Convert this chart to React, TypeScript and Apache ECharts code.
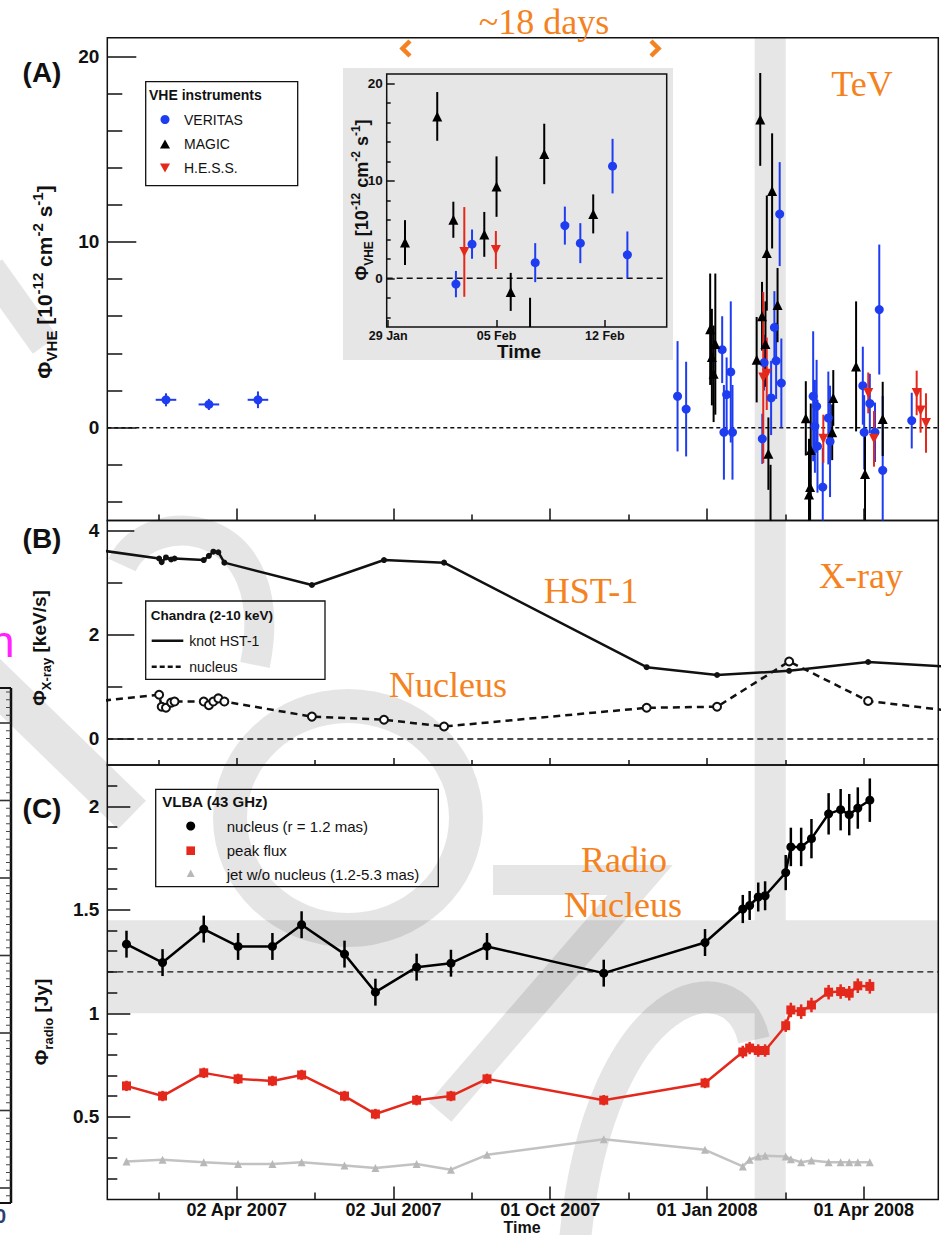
import React, { useEffect, useRef } from "react";
import * as echarts from "echarts";

// ---------------- time helper (days since 2 Apr 2007, 00:00 UTC) ----------------
const REF_MS = Date.UTC(2007, 3, 2);
function day(s: string): number {
  const [d, t] = s.split("T");
  const [Y, M, D] = d.split("-").map(Number);
  const [h, m] = t ? t.split(":").map(Number) : [0, 0];
  return (Date.UTC(Y, M - 1, D, h, m) - REF_MS) / 864e5;
}

// ---------------- axes ----------------
const timeRange = ["2007-01-16T19:40", "2008-05-14T21:20"];
const xTickDates = ["2007-04-02T04:48", "2007-07-02T12:18", "2007-10-01T19:48", "2008-01-01T03:18", "2008-04-01T10:48"];
const xTickLabels = ["02 Apr 2007", "02 Jul 2007", "01 Oct 2007", "01 Jan 2008", "01 Apr 2008"];
const xMinorTickDates = ["2007-02-15T13:03", "2007-05-17T20:33", "2007-08-17T04:03", "2007-11-16T11:33", "2008-02-15T19:03"];
const insetRange = ["2008-01-28T21:36", "2008-02-16T00:00"];
const insetTickDates = ["2008-01-29", "2008-02-05", "2008-02-12"];
const insetTickLabels = ["29 Jan", "05 Feb", "12 Feb"];
const flareWindow = ["2008-01-28T21:36", "2008-02-16T00:00"];

const yTicksA = [0, 10, 20];
const yMinorA = [-4, -2, 2, 4, 6, 8, 12, 14, 16, 18];
const yTicksB = [0, 2, 4];
const yMinorB = [1, 3];
const yTicksC = [0.5, 1, 1.5, 2];
const yMinorC = [0.2, 0.3, 0.4, 0.6, 0.7, 0.8, 0.9, 1.1, 1.2, 1.3, 1.4, 1.6, 1.7, 1.8, 1.9, 2.1];
const radioBand = [1.0, 1.45];
const radioRef = 1.2;

// ---------------- (A) VHE, outside the flare window ----------------
const veritasDates = ["2007-02-20", "2007-03-17", "2007-04-14T14:00", "2007-12-15", "2007-12-20", "2008-01-10", "2008-01-11", "2008-01-12T14:00", "2008-01-15", "2008-01-16", "2008-03-03", "2008-03-04", "2008-03-05", "2008-03-05T12:00", "2008-03-08T14:00", "2008-03-11T20:00", "2008-03-12T20:00", "2008-03-31T22:00", "2008-04-01T17:00", "2008-04-05", "2008-04-08", "2008-04-10T12:00", "2008-04-12T12:00", "2008-04-29T10:00"];
const veritasFlux = [1.5, 1.25, 1.5, 1.69, 1.0, 4.2, -0.25, 1.78, 3.0, -0.25, 1.69, 0.07, 1.15, -1.0, -3.2, 0.52, -0.74, 2.26, -0.25, 1.3, -0.25, 6.36, -2.3, 0.38];
const veritasErr = [0.35, 0.3, 0.45, 2.97, 2.55, 1.8, 2.55, 2.0, 3.8, 2.55, 3.5, 2.5, 2.5, 2.5, 2.1, 2.5, 3.0, 2.1, 2.0, 1.6, 1.6, 3.5, 4.0, 1.5];
const veritasXErrDays = [6, 6, 6, 0, 0, 0, 0, 0, 0, 0, 0, 0, 0, 0, 0, 0, 0, 0, 0, 0, 0, 0, 0, 0];

const magicDates = ["2008-01-03", "2008-01-04", "2008-01-05", "2008-01-06", "2008-02-27T17:00", "2008-02-29T14:00", "2008-03-01T05:00", "2008-03-01T14:00", "2008-03-14T02:00", "2008-03-14T17:00", "2008-03-28", "2008-04-02T05:00", "2008-04-12T12:00"];
const magicFlux = [5.3, 3.8, 2.9, 4.5, 0.5, -3.6, -3.2, -1.2, -0.25, 1.6, 3.3, -2.5, 0.47];
const magicErr = [3.0, 2.6, 2.6, 3.8, 2.0, 3.0, 2.5, 2.5, 1.5, 1.5, 3.5, 2.5, 2.0];

const hessDates = ["2008-03-08T22:00", "2008-04-04T02:00", "2008-04-07T10:00", "2008-05-02T07:00", "2008-05-04T14:00", "2008-05-07T17:00"];
const hessFlux = [-0.6, 1.87, -0.6, 1.87, 0.93, 0.25];
const hessErr = [1.3, 1.1, 1.5, 1.2, 1.2, 1.6];

// ---------------- (A) + inset: the ~18 day flare ----------------
const magicFlareDates = ["2008-01-30T02:00", "2008-02-01T04:00", "2008-02-02T05:00", "2008-02-04T05:00", "2008-02-05T00:00", "2008-02-05T22:00", "2008-02-07T04:00", "2008-02-08T02:00", "2008-02-11T06:00"];
const magicFlareFlux = [3.66, 16.6, 6.0, 4.5, 9.4, -1.4, -5.6, 12.75, 6.6];
const magicFlareErr = [2.3, 2.5, 1.85, 2.3, 3.1, 1.95, 3.6, 3.1, 2.0];
const veritasFlareDates = ["2008-02-02T09:00", "2008-02-03T10:00", "2008-02-07T12:00", "2008-02-09T10:00", "2008-02-10T10:00", "2008-02-12T12:00", "2008-02-13T11:00"];
const veritasFlareFlux = [-0.6, 3.5, 1.6, 5.4, 3.6, 11.5, 2.4];
const veritasFlareErr = [1.35, 1.5, 2.0, 1.95, 2.05, 2.8, 2.4];
const hessFlareDates = ["2008-02-02T22:00", "2008-02-04T23:00"];
const hessFlareFlux = [2.7, 2.9];
const hessFlareErr = [4.6, 1.95];

// ---------------- (B) Chandra X-ray ----------------
const xrayDates = ["2007-01-01", "2007-02-16", "2007-02-17T12:00", "2007-02-20", "2007-02-23", "2007-02-25", "2007-03-14", "2007-03-17", "2007-03-19T14:00", "2007-03-22T12:00", "2007-03-26", "2007-05-16", "2007-06-27", "2007-08-01", "2007-11-27", "2008-01-07", "2008-02-18", "2008-04-04", "2008-05-25"];
const hst1Flux = [3.68, 3.47, 3.4, 3.49, 3.45, 3.47, 3.44, 3.52, 3.6, 3.59, 3.39, 2.96, 3.44, 3.39, 1.38, 1.23, 1.31, 1.48, 1.38];
const nucleusXFlux = [0.69, 0.85, 0.62, 0.6, 0.7, 0.72, 0.72, 0.65, 0.72, 0.78, 0.72, 0.43, 0.37, 0.24, 0.6, 0.62, 1.49, 0.73, 0.53];

// ---------------- (C) VLBA 43 GHz ----------------
const radioDates = ["2007-01-28", "2007-02-18", "2007-03-14", "2007-04-03", "2007-04-23", "2007-05-10", "2007-06-04", "2007-06-22", "2007-07-16", "2007-08-05", "2007-08-26", "2007-11-02", "2007-12-31", "2008-01-22", "2008-01-26", "2008-01-31", "2008-02-04", "2008-02-16", "2008-02-19", "2008-02-25", "2008-03-02", "2008-03-12", "2008-03-19", "2008-03-24", "2008-03-29", "2008-04-05"];
const radioNucleus = [1.334, 1.245, 1.407, 1.323, 1.323, 1.428, 1.286, 1.102, 1.223, 1.242, 1.323, 1.194, 1.342, 1.504, 1.521, 1.562, 1.568, 1.68, 1.804, 1.804, 1.844, 1.964, 1.984, 1.96, 1.992, 2.03];
const radioNucleusErr = [0.065, 0.065, 0.065, 0.065, 0.065, 0.065, 0.065, 0.065, 0.065, 0.065, 0.065, 0.065, 0.065, 0.068, 0.07, 0.07, 0.07, 0.085, 0.093, 0.093, 0.095, 0.1, 0.1, 0.1, 0.1, 0.105];
const radioPeak = [0.649, 0.6, 0.712, 0.683, 0.673, 0.702, 0.6, 0.513, 0.58, 0.6, 0.683, 0.58, 0.663, 0.813, 0.832, 0.82, 0.82, 0.94, 1.016, 1.008, 1.04, 1.102, 1.105, 1.097, 1.133, 1.13];
const radioPeakErr = [0.025, 0.025, 0.025, 0.025, 0.025, 0.025, 0.025, 0.025, 0.025, 0.025, 0.025, 0.025, 0.025, 0.03, 0.03, 0.03, 0.03, 0.03, 0.035, 0.035, 0.035, 0.035, 0.035, 0.035, 0.035, 0.035];
const radioJet = [0.284, 0.292, 0.28, 0.272, 0.272, 0.28, 0.264, 0.252, 0.272, 0.244, 0.316, 0.391, 0.34, 0.26, 0.292, 0.308, 0.311, 0.308, 0.295, 0.28, 0.288, 0.28, 0.28, 0.28, 0.28, 0.28];

// ---------------- styling ----------------
const FONT = "'Liberation Sans', Arial, Helvetica, sans-serif";
const SERIF = "'Liberation Serif', 'Times New Roman', serif";
const INK = "#111111";
const BLUE = "#1e3cf0";
const RED = "#e4281c";
const ORANGE = "#f58220";
const BAND = "#e6e6e6";
const WATER = "rgba(0,0,0,0.1)";

function pts(dates: string[], vals: number[], errs?: number[], xerr?: number[]) {
  return dates.map((d, i) => [day(d), vals[i], errs ? errs[i] : 0, xerr ? xerr[i] : 0]);
}

function errorBars(xi: number, yi: number, data: number[][], color: string, width: number, z: number) {
  return {
    type: "custom", xAxisIndex: xi, yAxisIndex: yi, z, silent: true,
    encode: { x: 0, y: 1 }, data,
    renderItem: (params: any, api: any) => {
      const cs = params.coordSys;
      const x = api.value(0), y = api.value(1), e = api.value(2), xe = api.value(3);
      const c = api.coord([x, y]);
      const children: any[] = [];
      if (c[0] < cs.x - 1 || c[0] > cs.x + cs.width + 1) return { type: "group", children };
      const top = cs.y, bot = cs.y + cs.height;
      const cl = (v: number) => Math.max(top, Math.min(bot, v));
      const y1 = cl(api.coord([x, y + e])[1]);
      const y2 = cl(api.coord([x, y - e])[1]);
      if (y2 - y1 > 0.5) children.push({ type: "line", shape: { x1: c[0], y1, x2: c[0], y2 }, style: { stroke: color, lineWidth: width } });
      if (xe > 0 && c[1] >= top && c[1] <= bot) {
        const l = api.coord([x - xe, y])[0], r = api.coord([x + xe, y])[0];
        children.push({ type: "line", shape: { x1: l, y1: c[1], x2: r, y2: c[1] }, style: { stroke: color, lineWidth: width } });
      }
      return { type: "group", children };
    },
  };
}

function bandSeries(xi: number, yi: number, rects: number[][]) {
  return {
    type: "custom", xAxisIndex: xi, yAxisIndex: yi, z: 1, silent: true,
    encode: { x: [0, 1], y: [2, 3] }, data: rects,
    renderItem: (_p: any, api: any) => {
      const a = api.coord([api.value(0), api.value(3)]);
      const b = api.coord([api.value(1), api.value(2)]);
      return { type: "rect", shape: { x: a[0], y: a[1], width: b[0] - a[0], height: b[1] - a[1] }, style: { fill: BAND } };
    },
  };
}

function refLine(xi: number, yi: number, x0: number, x1: number, yv: number, dash: number[], width: number) {
  return {
    type: "line", xAxisIndex: xi, yAxisIndex: yi, data: [[x0, yv], [x1, yv]], symbol: "none", silent: true, z: 2,
    lineStyle: { color: INK, width, type: dash },
  };
}

function scatter(xi: number, yi: number, data: number[][], symbol: string, size: number, color: string, rotate = 0) {
  return {
    type: "scatter", xAxisIndex: xi, yAxisIndex: yi, symbol, symbolSize: size, symbolRotate: rotate, z: 5, silent: true,
    itemStyle: { color, opacity: 1 }, data: data.map((p) => [p[0], p[1]]),
  };
}

function xAx(gi: number, min: number, max: number, ticks: number[], len: number, labels?: string[], fs = 19, margin = 2) {
  return {
    type: "value", gridIndex: gi, min, max, z: 10, position: "bottom",
    axisLine: { show: false, onZero: false }, splitLine: { show: false },
    axisTick: { show: true, inside: true, length: len, customValues: ticks, lineStyle: { color: INK, width: 1.5 } },
    axisLabel: labels
      ? {
          show: true, customValues: ticks, margin, fontFamily: FONT, fontWeight: "bold", fontSize: fs, color: INK, hideOverlap: false,
          formatter: (v: number) => {
            let best = 0;
            ticks.forEach((t, i) => { if (Math.abs(t - v) < Math.abs(ticks[best] - v)) best = i; });
            return labels[best];
          },
        }
      : { show: false },
  };
}

function yAx(gi: number, min: number, max: number, ticks: number[], len: number, labels = false, fs = 19, margin = 8) {
  return {
    type: "value", gridIndex: gi, min, max, z: 10, position: "left",
    axisLine: { show: false, onZero: false }, splitLine: { show: false },
    axisTick: { show: true, inside: true, length: len, customValues: ticks, lineStyle: { color: INK, width: 1.5 } },
    axisLabel: labels
      ? { show: true, customValues: ticks, margin, fontFamily: FONT, fontWeight: "bold", fontSize: fs, color: INK, hideOverlap: false }
      : { show: false },
  };
}

function rich(main: number, sub: number, lh: number) {
  const base = { fontFamily: FONT, fontWeight: "bold", fill: INK, lineHeight: lh };
  return {
    m: { ...base, fontSize: main, verticalAlign: "middle" },
    s: { ...base, fontSize: sub, verticalAlign: "bottom" },
    p: { ...base, fontSize: sub, verticalAlign: "top" },
  };
}

function txt(x: number, y: number, text: string, size: number, opts: any = {}) {
  return {
    type: "text", x, y, z: opts.z ?? 8, silent: true, rotation: opts.rotation ?? 0,
    style: {
      text, fill: opts.fill ?? INK, fontSize: size, fontFamily: opts.family ?? FONT, fontWeight: opts.weight ?? "normal",
      align: opts.align ?? "left", verticalAlign: opts.va ?? "middle", rich: opts.rich,
    },
  };
}

function buildOption() {
  const xMin = day(timeRange[0]), xMax = day(timeRange[1]);
  const xMajor = xTickDates.map(day), xMinor = xMinorTickDates.map(day);
  const inMin = day(insetRange[0]), inMax = day(insetRange[1]);
  const inMajor = insetTickDates.map(day);
  const f0 = day(flareWindow[0]), f1 = day(flareWindow[1]);

  const veritasMain = pts(veritasDates, veritasFlux, veritasErr, veritasXErrDays);
  const magicMain = pts(magicDates, magicFlux, magicErr);
  const hessMain = pts(hessDates, hessFlux, hessErr);
  const veritasFl = pts(veritasFlareDates, veritasFlareFlux, veritasFlareErr);
  const magicFl = pts(magicFlareDates, magicFlareFlux, magicFlareErr);
  const hessFl = pts(hessFlareDates, hessFlareFlux, hessFlareErr);
  const veritasAll = veritasMain.concat(veritasFl);
  const magicAll = magicMain.concat(magicFl);
  const hessAll = hessMain.concat(hessFl);

  const hst1 = pts(xrayDates, hst1Flux);
  const nucX = pts(xrayDates, nucleusXFlux);
  const rNuc = pts(radioDates, radioNucleus, radioNucleusErr);
  const rPeak = pts(radioDates, radioPeak, radioPeakErr);
  const rJet = pts(radioDates, radioJet);

  const grid = [
    { left: 107.3, top: 37.7, width: 831, height: 482.8 },
    { left: 107.3, top: 520.5, width: 831, height: 244.5 },
    { left: 107.3, top: 765, width: 831, height: 434.5 },
    { left: 386.7, top: 74, width: 280, height: 253 },
  ].map((g) => ({ ...g, show: true, borderColor: INK, borderWidth: 1.5, backgroundColor: "transparent", z: 2 }));

  const xAxis = [
    xAx(0, xMin, xMax, xMajor, 12), xAx(0, xMin, xMax, xMinor, 6),
    xAx(1, xMin, xMax, xMajor, 7), xAx(1, xMin, xMax, xMinor, 5),
    xAx(2, xMin, xMax, xMajor, 13, xTickLabels, 18, 1), xAx(2, xMin, xMax, xMinor, 7),
    xAx(3, inMin, inMax, inMajor, 7, insetTickLabels, 12.5, 2),
  ];
  const yAxis = [
    yAx(0, -5, 21, yTicksA, 29, true), yAx(0, -5, 21, yMinorA, 15),
    yAx(1, -0.5, 4.2, yTicksB, 27, true), yAx(1, -0.5, 4.2, yMinorB, 15),
    yAx(2, 0.1, 2.2, yTicksC, 23, true), yAx(2, 0.1, 2.2, yMinorC, 10),
    yAx(3, -5, 20.95, yTicksA, 8, true, 13.5, 4), yAx(3, -5, 20.95, yMinorA, 4),
  ];

  const series: any[] = [
    // (A)
    bandSeries(0, 0, [[f0, f1, -5, 21]]),
    refLine(0, 0, xMin, xMax, 0, [4, 3], 1.5),
    errorBars(0, 0, veritasAll, BLUE, 2, 4),
    errorBars(0, 0, magicAll, "#000", 2, 4),
    errorBars(0, 0, hessAll, RED, 2, 4),
    scatter(0, 0, veritasAll, "circle", 9, BLUE),
    scatter(0, 0, magicAll, "triangle", 10, "#000"),
    scatter(0, 0, hessAll, "triangle", 10, RED, 180),
    // (B)
    bandSeries(2, 2, [[f0, f1, -0.5, 4.2]]),
    refLine(2, 2, xMin, xMax, 0, [6, 4], 1.3),
    {
      type: "line", xAxisIndex: 2, yAxisIndex: 2, data: hst1.map((p) => [p[0], p[1]]), z: 3, silent: true,
      symbol: "circle", symbolSize: 6, showAllSymbol: true, clip: true,
      lineStyle: { color: INK, width: 2.5 }, itemStyle: { color: INK },
    },
    {
      type: "line", xAxisIndex: 2, yAxisIndex: 2, data: nucX.map((p) => [p[0], p[1]]), z: 3, silent: true,
      symbol: "emptyCircle", symbolSize: 8, showAllSymbol: true, clip: true,
      lineStyle: { color: INK, width: 2.5, type: [7, 5] }, itemStyle: { color: INK, borderWidth: 1.3 },
    },
    // (C)
    bandSeries(4, 4, [[f0, f1, 0.1, 2.2]]),
    bandSeries(4, 4, [[xMin, xMax, radioBand[0], radioBand[1]]]),
    refLine(4, 4, xMin, xMax, radioRef, [6, 4], 1.3),
    {
      type: "line", xAxisIndex: 4, yAxisIndex: 4, data: rJet.map((p) => [p[0], p[1]]), z: 3, silent: true,
      symbol: "triangle", symbolSize: 8, showAllSymbol: true,
      lineStyle: { color: "#c2c2c2", width: 2.5 }, itemStyle: { color: "#b8b8b8" },
    },
    errorBars(4, 4, rPeak, RED, 2.5, 4),
    {
      type: "line", xAxisIndex: 4, yAxisIndex: 4, data: rPeak.map((p) => [p[0], p[1]]), z: 3, silent: true,
      symbol: "rect", symbolSize: 9, showAllSymbol: true,
      lineStyle: { color: RED, width: 2.5 }, itemStyle: { color: RED },
    },
    errorBars(4, 4, rNuc, "#000", 2.5, 4),
    {
      type: "line", xAxisIndex: 4, yAxisIndex: 4, data: rNuc.map((p) => [p[0], p[1]]), z: 3, silent: true,
      symbol: "circle", symbolSize: 9, showAllSymbol: true,
      lineStyle: { color: "#000", width: 2.5 }, itemStyle: { color: "#000" },
    },
    // inset
    refLine(6, 6, inMin, inMax, 0, [6, 4], 1.6),
    errorBars(6, 6, veritasFl, BLUE, 2, 6),
    errorBars(6, 6, magicFl, "#000", 2, 6),
    errorBars(6, 6, hessFl, RED, 2, 6),
    { ...scatter(6, 6, veritasFl, "circle", 9, BLUE), z: 7 },
    { ...scatter(6, 6, magicFl, "triangle", 10, "#000"), z: 7 },
    { ...scatter(6, 6, hessFl, "triangle", 10, RED, 180), z: 7 },
  ];

  // ---------- decorations ----------
  const wm = (el: any) => ({ ...el, z: 1.5, silent: true, style: { fill: "none", stroke: WATER, lineCap: "butt", ...(el.style || {}) } });
  const watermark = [
    wm({ type: "line", shape: { x1: -10, y1: 268, x2: 45, y2: 345 }, style: { lineWidth: 30 } }),
    wm({ type: "bezierCurve", shape: { x1: 122, y1: 565, cpx1: 150, cpy1: 505, cpx2: 285, cpy2: 515, x2: 255, y2: 665 }, style: { lineWidth: 30 } }),
    wm({ type: "line", shape: { x1: -15, y1: 672, x2: 132, y2: 815 }, style: { lineWidth: 40 } }),
    wm({ type: "ellipse", x: 348, y: 818, shape: { cx: 0, cy: 0, rx: 118, ry: 112 }, style: { lineWidth: 34 } }),
    wm({ type: "polyline", shape: { points: [[493, 880], [640, 880], [440, 1112]] }, style: { lineWidth: 30 } }),
    wm({ type: "bezierCurve", shape: { x1: 754, y1: 1040, cpx1: 735, cpy1: 955, cpx2: 600, cpy2: 985, x2: 575, y2: 1240 }, style: { lineWidth: 32 } }),
  ];

  const ruler: any[] = [
    { type: "line", z: 8, shape: { x1: 11, y1: 688, x2: 11, y2: 1203 }, style: { stroke: INK, lineWidth: 2.5 } },
    { type: "line", z: 8, shape: { x1: 0, y1: 688, x2: 11, y2: 688 }, style: { stroke: INK, lineWidth: 2 } },
    { type: "line", z: 8, shape: { x1: 0, y1: 1203, x2: 11, y2: 1203 }, style: { stroke: INK, lineWidth: 2 } },
  ];
  for (let i = 0; i < 66; i++) {
    const y = 692 + i * 7.75;
    const major = i % 10 === 4;
    ruler.push({ type: "line", z: 8, shape: { x1: major ? 0 : 6, y1: y, x2: 11, y2: y }, style: { stroke: "#333", lineWidth: major ? 1.6 : 0.9 } });
  }

  const legendA = [
    { type: "rect", z: 8, shape: { x: 145.7, y: 81.7, width: 152, height: 104 }, style: { fill: "none", stroke: INK, lineWidth: 1.3 } },
    txt(149, 95, "VHE instruments", 14, { weight: "bold" }),
    { type: "circle", z: 8, shape: { cx: 165, cy: 119.5, r: 4.5 }, style: { fill: BLUE } },
    txt(184, 119.5, "VERITAS", 14),
    { type: "polygon", z: 8, shape: { points: [[165, 139.5], [170, 148.5], [160, 148.5]] }, style: { fill: "#000" } },
    txt(184, 144, "MAGIC", 14),
    { type: "polygon", z: 8, shape: { points: [[160, 163.5], [170, 163.5], [165, 172.5]] }, style: { fill: RED } },
    txt(184, 168, "H.E.S.S.", 14),
  ];
  const legendB = [
    { type: "rect", z: 8, shape: { x: 145.7, y: 601, width: 179.3, height: 78.3 }, style: { fill: "none", stroke: INK, lineWidth: 1.3 } },
    txt(150.7, 615, "Chandra (2-10 keV)", 13.5, { weight: "bold" }),
    { type: "line", z: 8, shape: { x1: 151.7, y1: 640.7, x2: 183.3, y2: 640.7 }, style: { stroke: INK, lineWidth: 2.5 } },
    txt(189.3, 640.7, "knot HST-1", 14),
    { type: "line", z: 8, shape: { x1: 151.7, y1: 666.7, x2: 183.3, y2: 666.7 }, style: { stroke: INK, lineWidth: 2.5, lineDash: [5, 3] } },
    txt(189.3, 666.7, "nucleus", 14),
  ];
  const legendC = [
    { type: "rect", z: 8, shape: { x: 155.7, y: 789.3, width: 282.6, height: 97.4 }, style: { fill: "none", stroke: INK, lineWidth: 1.3 } },
    txt(162.3, 801.7, "VLBA (43 GHz)", 15, { weight: "bold" }),
    { type: "circle", z: 8, shape: { cx: 190.7, cy: 826, r: 4.5 }, style: { fill: "#000" } },
    txt(226.7, 826, "nucleus (r = 1.2 mas)", 15),
    { type: "rect", z: 8, shape: { x: 186.4, y: 846.4, width: 8.6, height: 8.6 }, style: { fill: RED } },
    txt(226.7, 850.7, "peak flux", 15),
    { type: "polygon", z: 8, shape: { points: [[190.7, 869.5], [194.7, 877], [186.7, 877]] }, style: { fill: "#b8b8b8" } },
    txt(226.7, 874, "jet w/o nucleus (1.2-5.3 mas)", 15),
  ];

  const titles = [
    txt(44, 282, "{m|Φ}{s|VHE}{m| [10}{p|-12}{m| cm}{p|-2}{m| s}{p|-1}{m|]}", 21, { align: "center", rotation: Math.PI / 2, rich: rich(21, 15, 29) }),
    txt(39, 648, "{m|Φ}{s|X-ray}{m| [keV/s]}", 19, { align: "center", rotation: Math.PI / 2, rich: rich(19, 13, 27) }),
    txt(41, 1022, "{m|Φ}{s|radio}{m| [Jy]}", 19, { align: "center", rotation: Math.PI / 2, rich: rich(19, 13, 27) }),
    txt(362, 200, "{m|Φ}{s|VHE}{m| [10}{p|-12}{m| cm}{p|-2}{m| s}{p|-1}{m|]}", 18, { align: "center", rotation: Math.PI / 2, rich: rich(18, 12, 25), z: 9 }),
    txt(519, 351.5, "Time", 19, { align: "center", weight: "bold", z: 9 }),
    txt(522, 1227, "Time", 16, { align: "center", weight: "bold" }),
    txt(42, 72, "(A)", 28, { align: "center", weight: "bold" }),
    txt(42, 538, "(B)", 28, { align: "center", weight: "bold" }),
    txt(42, 808, "(C)", 28, { align: "center", weight: "bold" }),
  ];

  const orange = (x: number, y: number, t: string) => txt(x, y, t, 36, { align: "center", family: SERIF, fill: ORANGE, z: 9 });
  const annotations = [
    orange(544, 22, "~18 days"),
    orange(862, 84, "TeV"),
    orange(591, 591, "HST-1"),
    orange(861, 576, "X-ray"),
    orange(448, 685, "Nucleus"),
    orange(624, 860, "Radio"),
    orange(623, 905, "Nucleus"),
    { type: "polyline", z: 9, shape: { points: [[410, 41], [402.5, 48.5], [410, 56]] }, style: { fill: "none", stroke: ORANGE, lineWidth: 4.5 } },
    { type: "polyline", z: 9, shape: { points: [[651, 41], [658.5, 48.5], [651, 56]] }, style: { fill: "none", stroke: ORANGE, lineWidth: 4.5 } },
    txt(-10, 641, "n", 44, { fill: "#ff22ff" }),
    txt(-5, 1216, "0", 20, { weight: "bold", fill: "#2c3f78" }),
  ];

  const insetBox = { type: "rect", z: 0.5, silent: true, shape: { x: 343, y: 68, width: 330, height: 292 }, style: { fill: BAND } };

  return {
    animation: false,
    backgroundColor: "#ffffff",
    textStyle: { fontFamily: FONT },
    grid, xAxis, yAxis, series,
    graphic: { elements: [insetBox, ...watermark, ...ruler, ...legendA, ...legendB, ...legendC, ...titles, ...annotations] },
  };
}

export default function App() {
  const ref = useRef<HTMLDivElement>(null);
  useEffect(() => {
    const chart = echarts.init(ref.current!, null, { renderer: "svg" });
    chart.setOption(buildOption() as any);
    return () => chart.dispose();
  }, []);
  return <div ref={ref} style={{ position: "fixed", left: 0, top: 0, width: 944, height: 1235, background: "#fff" }} />;
}
